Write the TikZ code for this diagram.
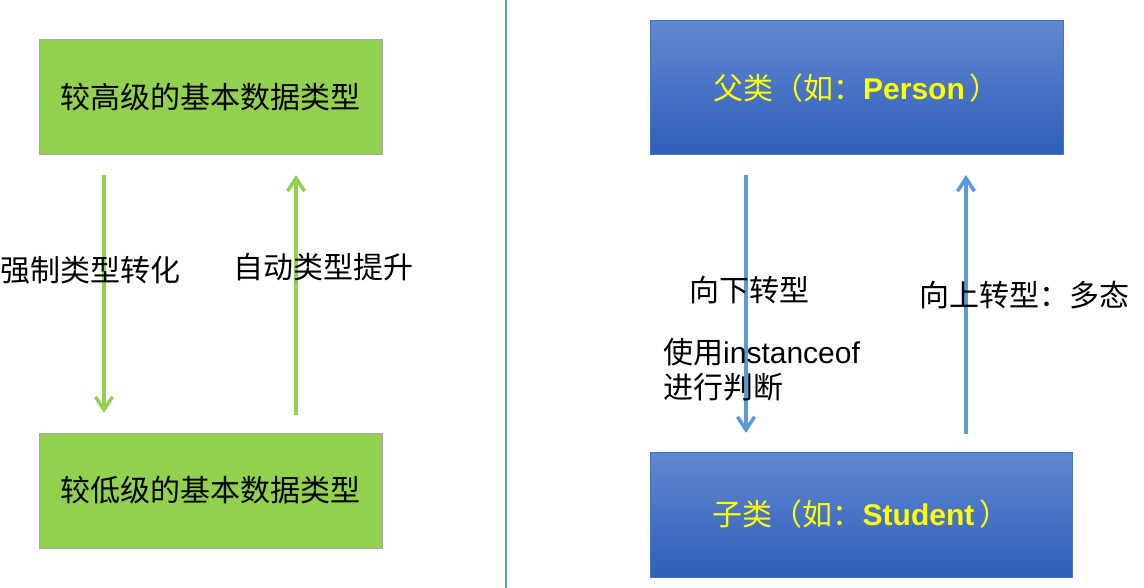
\documentclass[tikz,border=0pt]{standalone}
\usepackage{fontspec}
\setmainfont{Liberation Sans}
\newfontfamily\cjk{Noto Sans CJK SC}
\usetikzlibrary{arrows.meta}
\definecolor{gfill}{HTML}{92D050}
\definecolor{gborder}{HTML}{A6A6A6}
\definecolor{barrow}{HTML}{5B9BD5}
\definecolor{btop}{HTML}{6187D0}
\definecolor{bbot}{HTML}{2F5FBA}
\definecolor{bborder}{HTML}{4472C4}
\definecolor{ytext}{HTML}{FFFF00}
\tikzset{
  greenbox/.style={draw=gborder, line width=1pt, fill=gfill, minimum width=343pt, minimum height=115pt, inner sep=0pt, font=\fontsize{30}{34}\selectfont\cjk},
  bluebox/.style={draw=bborder, line width=1pt, top color=btop, bottom color=bbot, inner sep=0pt, text=ytext, font=\fontsize{30}{34}\selectfont},
  garrow/.style={draw=gfill, line width=4pt, -{Straight Barb[length=13pt,width=17pt,line width=3.5pt]}},
  barrowst/.style={draw=barrow, line width=4pt, -{Straight Barb[length=13pt,width=17pt,line width=3.5pt]}},
  lbl/.style={font=\fontsize{30}{35}\selectfont, inner sep=0pt, align=left},
}
\begin{document}
\begin{tikzpicture}[x=1pt,y=-1pt]
\useasboundingbox (0,0) rectangle (1144,588);
% separator
\coordinate (septop) at (506,0);
\coordinate (sepbot) at (506,588);
\draw[draw=barrow, line width=1.5pt] (septop) -- (sepbot);
% green boxes
\node[greenbox] (hi) at (210.5,97.5) {较高级的基本数据类型};
\node[greenbox] (lo) at (210.5,490.5) {较低级的基本数据类型};
% green arrows
\coordinate (g1s) at (104,175);
\coordinate (g1e) at (104,413);
\coordinate (g2s) at (296,415);
\coordinate (g2e) at (296,175);
\draw[garrow] (g1s) -- (g1e);
\draw[garrow] (g2s) -- (g2e);
\node[lbl, anchor=west] (l1) at (0,270) {\cjk 强制类型转化};
\node[lbl, anchor=west] (l2) at (233,267) {\cjk 自动类型提升};
% blue boxes
\node[bluebox, minimum width=413pt, minimum height=134pt] (par) at (856.5,88) {{\cjk 父类（如：}\textbf{Person}\,{\cjk ）}};
\node[bluebox, minimum width=422pt, minimum height=125pt] (sub) at (861,514.5) {{\cjk 子类（如：}\textbf{Student}\,{\cjk ）}};
% blue arrows
\coordinate (b1s) at (746,175);
\coordinate (b1e) at (746,433);
\coordinate (b2s) at (966,434);
\coordinate (b2e) at (966,175);
\draw[barrowst] (b1s) -- (b1e);
\draw[barrowst] (b2s) -- (b2e);
\node[lbl, anchor=west] (l3) at (689,290) {\cjk 向下转型};
\node[lbl, anchor=north west] (l4) at (663,338) {{\cjk 使用}instanceof\\{\cjk 进行判断}};
\node[lbl, anchor=west] (l5) at (919,295) {\cjk 向上转型：多态};
\end{tikzpicture}
\end{document}
